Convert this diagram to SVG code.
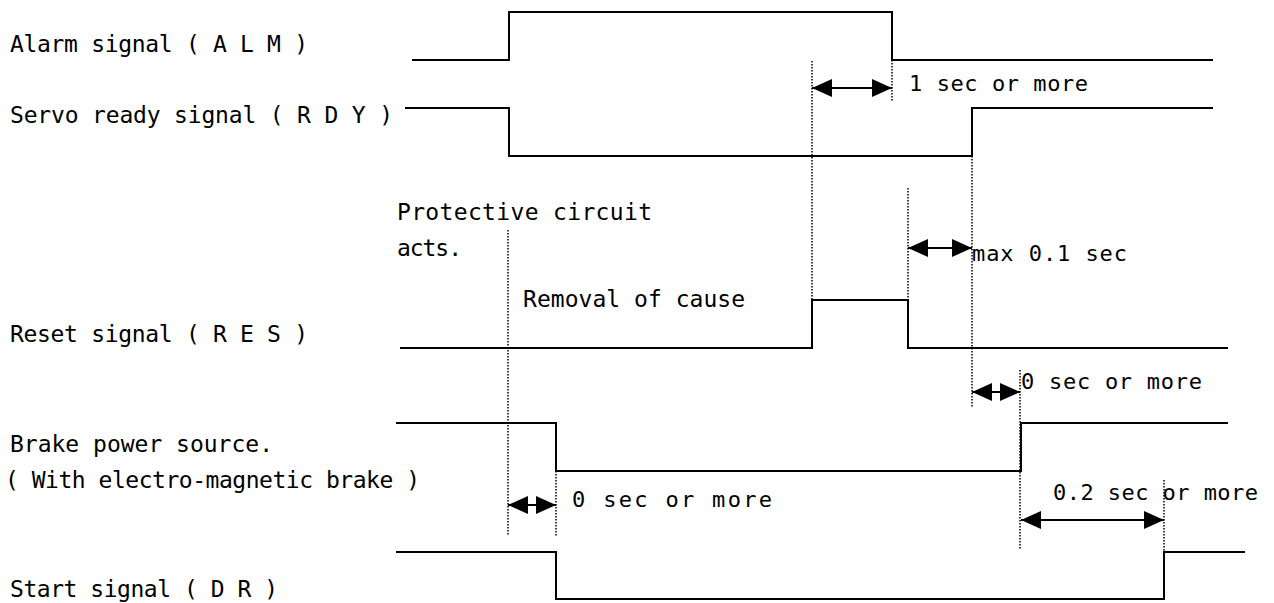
<svg xmlns="http://www.w3.org/2000/svg" width="1274" height="603" viewBox="0 0 1274 603">
<style>
text{font-family:"DejaVu Sans Mono","Liberation Mono",monospace;font-size:23px;fill:#000}
.t{font-size:22px}
.sig{fill:none;stroke:#000;stroke-width:2;stroke-linejoin:miter}
.dot{fill:none;stroke:#000;stroke-width:1.5;stroke-dasharray:1.5 1.5}
.arr{fill:none;stroke:#000;stroke-width:2;marker-start:url(#ah);marker-end:url(#ah)}
</style>
<defs>
<marker id="ah" viewBox="0 0 20 18" refX="20" refY="9" markerWidth="20" markerHeight="18" markerUnits="userSpaceOnUse" orient="auto-start-reverse">
<path d="M0,0 L20,9 L0,18 z" fill="#000"/>
</marker>
</defs>
<rect width="1274" height="603" fill="#fff"/>
<g id="alm">
<text x="10" y="52" textLength="298">Alarm signal ( A L M )</text>
<polyline class="sig" points="412,60 509,60 509,12 892,12 892,60 1213,60"/>
</g>
<g id="rdy">
<text x="10" y="123" textLength="383">Servo ready signal ( R D Y )</text>
<polyline class="sig" points="405,108 509,108 509,156 972,156 972,108 1213,108"/>
</g>
<g id="res">
<text x="10" y="342" textLength="298">Reset signal ( R E S )</text>
<polyline class="sig" points="400,348 812,348 812,300 908,300 908,348 1228,348"/>
</g>
<g id="brake">
<text x="10" y="452" textLength="263">Brake power source.</text>
<text x="5" y="488" textLength="415">( With electro-magnetic brake )</text>
<polyline class="sig" points="396,423 556,423 556,471 1021,471 1021,423 1228,423"/>
</g>
<g id="dr">
<text x="10" y="597" textLength="268">Start signal ( D R )</text>
<polyline class="sig" points="396,552 556,552 556,599 1164,599 1164,552 1245,552"/>
</g>
<g id="notes">
<text x="397" y="220" textLength="255">Protective circuit</text>
<text x="397" y="256" textLength="65">acts.</text>
<text x="523" y="307" textLength="222">Removal of cause</text>
</g>
<g id="connectors">
<line class="dot" x1="812" y1="61" x2="812" y2="300"/>
<line class="dot" x1="892" y1="60" x2="892" y2="102"/>
<line class="dot" x1="508" y1="230" x2="508" y2="536"/>
<line class="dot" x1="908" y1="188" x2="908" y2="300"/>
<line class="dot" x1="972" y1="156" x2="972" y2="408"/>
<line class="dot" x1="1020" y1="370" x2="1020" y2="550"/>
<line class="dot" x1="556" y1="471" x2="556" y2="536"/>
<line class="dot" x1="1164" y1="480" x2="1164" y2="552"/>
<line class="arr" x1="812" y1="88" x2="892" y2="88"/>
<line class="arr" x1="908" y1="248" x2="972" y2="248"/>
<line class="arr" x1="972" y1="392" x2="1020" y2="392"/>
<line class="arr" x1="508" y1="505" x2="556" y2="505"/>
<line class="arr" x1="1021" y1="520" x2="1164" y2="520"/>
</g>
<g id="timing-labels">
<text class="t" x="909" y="91" textLength="179">1 sec or more</text>
<text class="t" x="972" y="261" textLength="155">max 0.1 sec</text>
<text class="t" x="1021" y="389" textLength="181">0 sec or more</text>
<text class="t" x="572" y="507" textLength="200">0 sec or more</text>
<text class="t" x="1053" y="500" textLength="205">0.2 sec or more</text>
</g>
</svg>
